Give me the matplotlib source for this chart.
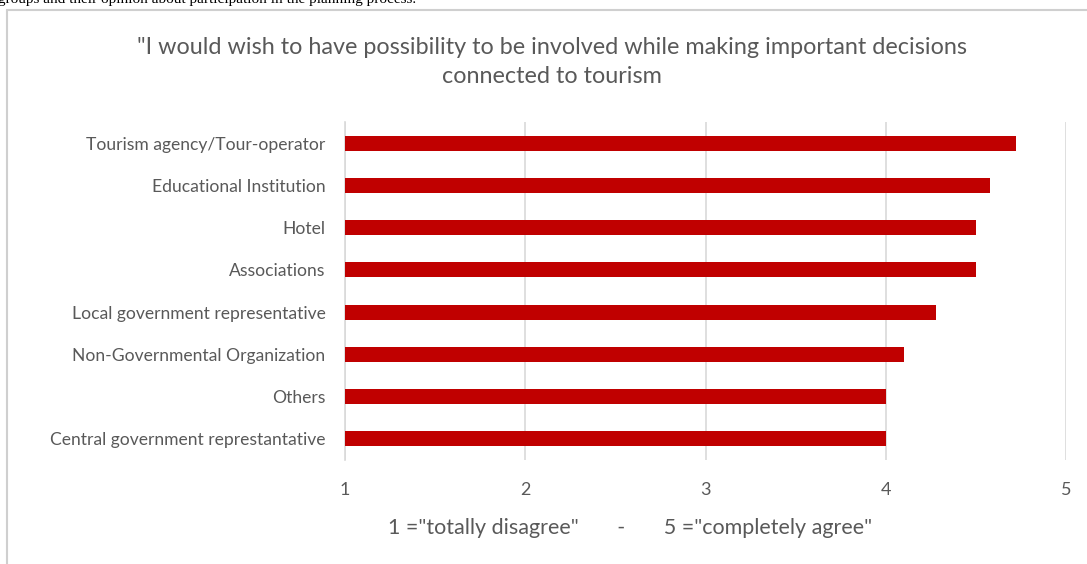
import matplotlib.pyplot as plt
from matplotlib.patches import Rectangle

categories = [
    "Tourism agency/Tour-operator",
    "Educational Institution",
    "Hotel",
    "Associations",
    "Local government representative",
    "Non-Governmental Organization",
    "Others",
    "Central government represtantative",
]
scores = [4.72, 4.58, 4.50, 4.50, 4.28, 4.10, 4.00, 4.00]
xticks = [1, 2, 3, 4, 5]

title = '"I would wish to have possibility to be involved while making important decisions\nconnected to tourism'
xlabel = '1 ="totally disagree"       -       5 ="completely agree"'
page_text = "groups and their opinion about participation in the planning process."

GREY = "#595959"
RED = "#c00000"

plt.rcParams["font.family"] = ["Lato", "DejaVu Sans"]

fig = plt.figure(figsize=(10.87, 5.64), dpi=100)
ax = fig.add_axes([0.3174, 0.1844, 0.6633, 0.5993])

ypos = list(range(len(categories)))
ax.barh(ypos, [s - 1 for s in scores], left=1, height=0.36, color=RED, zorder=3)
ax.set_yticks(ypos)
ax.set_yticklabels(categories, fontsize=12.6, color=GREY)
ax.set_ylim(len(categories) - 0.5, -0.5)
ax.set_xlim(1, 5)
ax.set_xticks(xticks)
ax.set_xticklabels([str(t) for t in xticks], fontsize=13, color=GREY)
ax.tick_params(axis="both", length=0)
ax.tick_params(axis="x", pad=16)
ax.tick_params(axis="y", pad=14)
ax.grid(axis="x", color="#d9d9d9", linewidth=1.2, zorder=0)
for side in ["top", "right", "bottom"]:
    ax.spines[side].set_visible(False)
ax.spines["left"].set_color("#d9d9d9")
ax.spines["left"].set_linewidth(1.2)

fig.text(552 / 1087, 1 - 62 / 564, title, ha="center", va="center",
         fontsize=16.8, color=GREY, linespacing=1.45)
fig.text(630 / 1087, 1 - 528 / 564, xlabel, ha="center", va="center",
         fontsize=15.5, color=GREY)

# frame of the embedded chart, page text above it cut off
fig.add_artist(Rectangle((7 / 1087, -0.1), 1.2, 1.1 - 10 / 564,
                         transform=fig.transFigure, fill=False,
                         edgecolor="#cfcfcf", linewidth=1.5, clip_on=False))
fig.text(-2 / 1087, 1 - 3 / 564, page_text, ha="left", va="baseline",
         fontsize=11, family="Liberation Serif", color="black")

fig.savefig("out.png", dpi=100, facecolor="white")
